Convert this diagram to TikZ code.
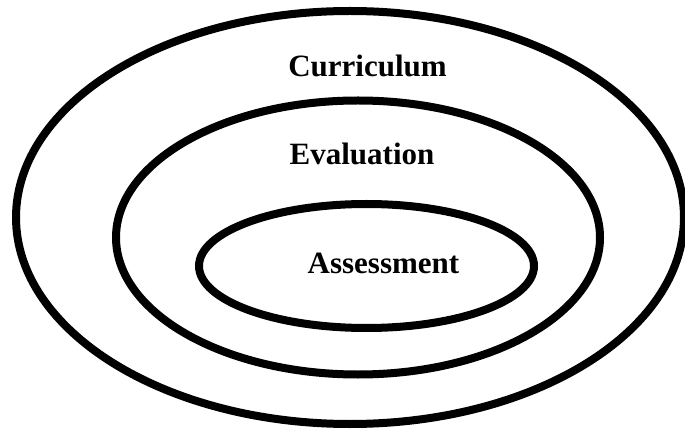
\documentclass[tikz,border=0pt]{standalone}
\usepackage{fontspec}
\setmainfont{Liberation Serif}
\begin{document}
\begin{tikzpicture}[x=1pt,y=-1pt,
  ring/.style={draw=black,line width=8pt},
  lbl/.style={anchor=base,inner sep=0pt,font=\fontsize{31}{34}\selectfont\bfseries}]
\useasboundingbox (0,0) rectangle (685,430);
\draw[ring] (350,217.5) ellipse [x radius=334, y radius=206.5];
\draw[ring] (358,237.5) ellipse [x radius=242, y radius=137];
\draw[ring] (366.5,266) ellipse [x radius=167.5, y radius=62];
\node[lbl] (cur) at (367.5,77) {Curriculum};
\node[lbl] (eva) at (362,165) {Evaluation};
\node[lbl] (ass) at (383.5,273) {Assessment};
\end{tikzpicture}
\end{document}
